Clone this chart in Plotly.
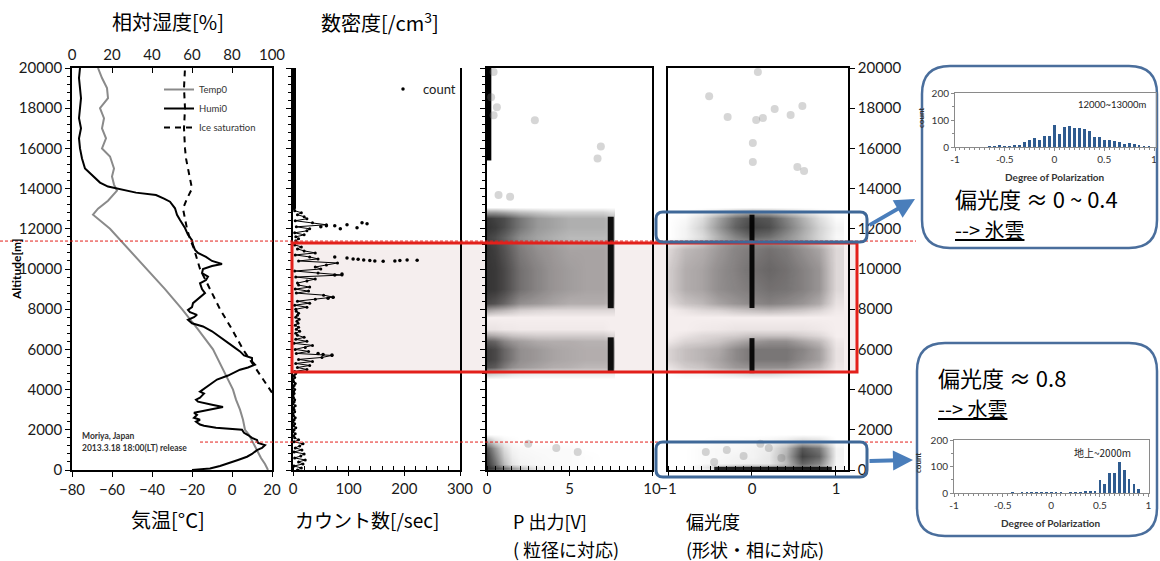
import plotly.graph_objects as go

W, H = 1160, 561
CJK = "Noto Sans CJK JP"
LAT = "Lato"

# ---------------- data ----------------
# Panel 1 : radiosonde profiles
temp_alt = [0, 300, 600, 1000, 1300, 1500, 1750, 2000, 2500, 3000, 3500, 4000, 5000, 6000, 7000,
            8000, 9000, 10000, 11000, 12000, 12700, 13000, 13400, 13900, 14200, 14600, 15000,
            15300, 15600, 16000, 16500, 17000, 17500, 18000, 18500, 19000, 19500, 20000]
temp_c = [18, 16.5, 14.5, 12.5, 11, 10, 8.5, 6.5, 5.5, 4, 2, 0.5, -4.5, -9.5, -17,
          -25, -33.5, -42.5, -52, -61, -69.5, -67, -62, -57.5, -59, -60, -59,
          -60, -61, -65, -63, -65, -64, -66, -62, -62.5, -65, -67]

humi_alt = [0, 80, 200, 330, 500, 660, 800, 990, 1100, 1240, 1350, 1490, 1600, 1740, 1850, 2000,
            2100, 2200, 2260, 2400, 2500, 2600, 2740, 2850, 3000, 3130, 3250, 3400, 3500, 3600,
            3700, 3800, 3900, 4080, 4300, 4500, 4700, 4990, 5100, 5240, 5400, 5570, 5700, 5900,
            6150, 6400, 6730, 6900, 7140, 7300, 7470, 7600, 7720, 7850, 7960, 8100, 8300, 8500,
            8800, 9000, 9290, 9450, 9620, 9800, 10000, 10150, 10250, 10400, 10600, 10800, 10950,
            11200, 11440, 11700, 12040, 12440, 12700, 13020, 13350, 13500, 13680, 13800, 13950,
            14100, 14300, 14500, 14800, 15000, 15500, 16000, 16500, 17000, 17500, 18000, 18500,
            19000, 19500, 20000]
humi_rh = [60, 69, 74, 77.5, 83, 87.5, 90, 92.5, 95, 96.5, 93, 92.5, 90, 88, 86, 85,
           72, 66, 64, 62, 64, 61, 62.5, 61, 68, 75.5, 70, 63, 62, 64,
           65, 66, 64, 66.5, 70, 72.5, 78, 84, 88, 91.5, 90, 90, 86, 84,
           80.5, 77, 72.5, 70, 65.5, 60, 58, 61, 62.5, 59, 58, 60, 60.5, 63,
           66.5, 65, 64, 67, 68, 65, 65.5, 70, 75, 70, 67, 63, 61.5,
           60.5, 60, 58, 56.5, 54, 52.5, 51.5, 49, 46, 42, 32, 24,
           18, 14, 12, 8.5, 6.5, 5, 4, 3.5, 4.5, 3.5, 4, 4.5,
           4, 3.5, 4]

ice_alt = [3850, 4000, 5000, 6000, 7000, 8000, 9000, 10000, 11000, 11500, 12000, 12500, 13000,
           13500, 14000, 14500, 15000, 15500, 16000, 17000, 18000, 19000, 20000]
ice_rh = [100, 99, 92, 85.5, 80, 74, 69, 64, 61, 59, 57.5, 56.5, 55.5,
          57.5, 60, 59, 58, 57, 56.5, 56, 56.5, 56, 56.5]

# Panel 2 : particle counts [/sec]
count_alt = list(range(0, 13001, 100))
count_val = ([8, 15, 2, 18, 10, 22, 3, 14, 20, 2, 16, 4, 12, 18, 2, 10] +
             [3, 1, 4, 0, 2, 5, 1, 3, 0, 2, 4, 1, 0, 3, 2, 1, 4, 0, 2, 3, 1, 0, 2, 1, 3, 0, 2, 4, 1, 0, 3, 2, 5] +
             [3, 25, 8, 30, 5, 35, 10, 52, 70, 6, 28, 4, 22, 35, 2, 25, 5, 20] +
             [8, 5, 12, 6, 10, 4, 9, 7, 11, 5, 8, 10, 6] +
             [5, 25, 3, 30, 8, 40, 72, 55, 6, 28, 4, 30, 10] +
             [8, 25, 40, 5, 88, 45, 3, 50, 40, 60, 80, 10, 45, 30, 4, 40, 20, 8, 15, 3] +
             [8, 5, 10] +
             [5, 20, 3, 25, 30, 6, 60, 35, 4, 25, 20, 8, 15, 3, 2])
count_high_alt = [13000, 20000]
count_high_val = [0, 0]
spike_alt = [12000, 12100, 12150, 12200, 12050, 12300, 12250, 12150,
             10600, 10550, 10500, 10480, 10450, 10420, 10400, 10380, 10400, 10420, 10450, 10430,
             9700, 9750, 8550, 8600, 5720, 5800, 5750]
spike_cnt = [85, 50, 75, 97, 115, 124, 133, 60,
             75, 97, 108, 117, 127, 138, 147, 162, 183, 192, 205, 223,
             75, 88, 63, 72, 70, 45, 54]

# Panel 3 : P output [V]  (density of the point cloud)
p_bins = [0, 0.5, 1, 1.5, 2, 3, 4, 5, 6, 7, 7.5]
p_alt = [13100, 12850, 12550, 12100, 11600, 11000, 10000, 9000, 8300, 7950, 7600, 7000, 6700,
         6400, 6000, 5500, 5100, 4850, 4500, 1800, 1450, 1100, 700, 300, 80, -150]
p_density = [
    [0, 0, 0, 0, 0, 0, 0, 0, 0, 0, 0],
    [0.45, 0.45, 0.4, 0.35, 0.3, 0.25, 0.2, 0.2, 0.2, 0.2, 0.15],
    [0.9, 0.85, 0.8, 0.7, 0.6, 0.45, 0.4, 0.35, 0.35, 0.35, 0.3],
    [0.92, 0.88, 0.8, 0.7, 0.6, 0.45, 0.4, 0.35, 0.35, 0.35, 0.3],
    [0.85, 0.8, 0.7, 0.6, 0.5, 0.4, 0.35, 0.3, 0.3, 0.3, 0.3],
    [0.9, 0.85, 0.75, 0.65, 0.55, 0.45, 0.4, 0.35, 0.35, 0.35, 0.3],
    [0.9, 0.88, 0.8, 0.7, 0.6, 0.5, 0.42, 0.38, 0.35, 0.35, 0.3],
    [0.9, 0.88, 0.8, 0.7, 0.6, 0.5, 0.42, 0.38, 0.35, 0.35, 0.3],
    [0.8, 0.75, 0.65, 0.55, 0.45, 0.4, 0.35, 0.3, 0.3, 0.3, 0.25],
    [0.35, 0.3, 0.25, 0.2, 0.15, 0.12, 0.1, 0.1, 0.1, 0.1, 0.1],
    [0, 0, 0, 0, 0, 0, 0, 0, 0, 0, 0],
    [0.05, 0.05, 0.03, 0.03, 0.02, 0.02, 0.02, 0.02, 0.02, 0.02, 0],
    [0.35, 0.3, 0.25, 0.2, 0.18, 0.15, 0.15, 0.15, 0.15, 0.15, 0.1],
    [0.7, 0.65, 0.5, 0.42, 0.38, 0.32, 0.3, 0.3, 0.28, 0.28, 0.25],
    [0.85, 0.8, 0.65, 0.55, 0.45, 0.4, 0.35, 0.32, 0.3, 0.3, 0.28],
    [0.85, 0.8, 0.65, 0.55, 0.45, 0.4, 0.35, 0.32, 0.3, 0.3, 0.28],
    [0.75, 0.7, 0.55, 0.45, 0.4, 0.35, 0.3, 0.28, 0.25, 0.25, 0.25],
    [0.3, 0.25, 0.2, 0.15, 0.12, 0.1, 0.1, 0.1, 0.1, 0.1, 0.1],
    [0, 0, 0, 0, 0, 0, 0, 0, 0, 0, 0],
    [0, 0, 0, 0, 0, 0, 0, 0, 0, 0, 0],
    [0.35, 0.15, 0.05, 0.02, 0, 0, 0, 0, 0, 0, 0],
    [0.75, 0.45, 0.15, 0.05, 0.03, 0.02, 0.02, 0.02, 0, 0, 0],
    [0.85, 0.55, 0.22, 0.08, 0.04, 0.03, 0.02, 0.02, 0.01, 0, 0],
    [0.9, 0.65, 0.3, 0.12, 0.06, 0.03, 0.03, 0.02, 0.01, 0, 0],
    [0.95, 0.85, 0.65, 0.45, 0.3, 0.08, 0.03, 0.02, 0, 0, 0],
    [0.6, 0.5, 0.4, 0.3, 0.2, 0.05, 0, 0, 0, 0, 0],
]
p_line_val = [7.5, 7.5, None, 7.5, 7.5]
p_line_alt = [12600, 8050, None, 6600, 4900]
p_col_val = [0.05, 0.05]
p_col_alt = [15400, 20000]
p_sparse_val = [0.4, 0.25, 0.6, 0.4, 2.9, 6.9, 6.7, 0.7, 1.4, 4.2, 5.5, 2.5]
p_sparse_alt = [19800, 18550, 18050, 17650, 17400, 16100, 15500, 13680, 13600, 1100, 900, 1300]

# Panel 4 : degree of polarization
pol_bins = [-1.0, -0.8, -0.6, -0.4, -0.2, 0.0, 0.2, 0.4, 0.6, 0.8, 1.0]
pol_alt = [13100, 12850, 12550, 12100, 11650, 11300, 11000, 10000, 9000, 8300, 7950, 7600, 7000,
           6700, 6400, 6000, 5500, 5100, 4850, 4500, 1800, 1450, 1100, 700, 350, 150, -150]
pol_density = [
    [0, 0, 0, 0, 0, 0, 0, 0, 0, 0, 0],
    [0, 0, 0.05, 0.15, 0.3, 0.4, 0.35, 0.25, 0.15, 0.05, 0],
    [0, 0.03, 0.15, 0.4, 0.65, 0.8, 0.75, 0.55, 0.35, 0.15, 0.02],
    [0, 0.05, 0.2, 0.45, 0.7, 0.85, 0.8, 0.6, 0.4, 0.2, 0.05],
    [0, 0.05, 0.15, 0.35, 0.55, 0.7, 0.65, 0.5, 0.35, 0.18, 0.03],
    [0.03, 0.1, 0.2, 0.35, 0.45, 0.5, 0.5, 0.45, 0.35, 0.2, 0.05],
    [0.1, 0.25, 0.3, 0.4, 0.5, 0.55, 0.6, 0.55, 0.45, 0.35, 0.1],
    [0.15, 0.3, 0.35, 0.45, 0.52, 0.6, 0.65, 0.6, 0.52, 0.42, 0.1],
    [0.15, 0.3, 0.35, 0.45, 0.5, 0.55, 0.6, 0.58, 0.52, 0.42, 0.1],
    [0.08, 0.2, 0.25, 0.35, 0.42, 0.48, 0.52, 0.48, 0.42, 0.32, 0.05],
    [0, 0.05, 0.1, 0.12, 0.18, 0.22, 0.25, 0.22, 0.18, 0.12, 0.02],
    [0, 0, 0, 0, 0, 0, 0, 0, 0, 0, 0],
    [0, 0, 0.02, 0.03, 0.05, 0.05, 0.05, 0.05, 0.05, 0.03, 0],
    [0, 0.05, 0.1, 0.12, 0.15, 0.2, 0.2, 0.2, 0.15, 0.1, 0],
    [0.03, 0.12, 0.15, 0.2, 0.3, 0.4, 0.45, 0.45, 0.35, 0.25, 0.03],
    [0.12, 0.22, 0.27, 0.32, 0.47, 0.57, 0.57, 0.57, 0.5, 0.37, 0.05],
    [0.12, 0.22, 0.27, 0.35, 0.47, 0.57, 0.57, 0.57, 0.47, 0.37, 0.05],
    [0.05, 0.15, 0.2, 0.3, 0.4, 0.45, 0.45, 0.45, 0.35, 0.25, 0.03],
    [0, 0.05, 0.05, 0.1, 0.15, 0.2, 0.2, 0.15, 0.1, 0.05, 0],
    [0, 0, 0, 0, 0, 0, 0, 0, 0, 0, 0],
    [0, 0, 0, 0, 0, 0, 0, 0, 0, 0, 0],
    [0, 0, 0, 0.02, 0.02, 0.03, 0.05, 0.1, 0.2, 0.15, 0],
    [0, 0, 0.02, 0.03, 0.03, 0.05, 0.08, 0.3, 0.75, 0.6, 0.05],
    [0, 0, 0.02, 0.03, 0.05, 0.05, 0.1, 0.35, 0.85, 0.7, 0.05],
    [0, 0, 0.02, 0.04, 0.06, 0.08, 0.1, 0.3, 0.7, 0.55, 0.04],
    [0, 0, 0.08, 0.2, 0.3, 0.35, 0.35, 0.4, 0.5, 0.4, 0.05],
    [0, 0, 0, 0, 0, 0, 0, 0, 0, 0, 0],
]
pol_line_val = [0, 0, None, 0, 0]
pol_line_alt = [12700, 8060, None, 6560, 4820]
pol_ground_val = [-0.45, 0.95]
pol_ground_alt = [60, 60]
pol_sparse_val = [0.07, -0.51, -0.29, 0.05, 0.13, 0.27, 0.46, 0.60, 0.01, 0.01, 0.54, 0.62,
                  -0.55, -0.3, -0.1, 0.2, 0.35, -0.45, 0.1]
pol_sparse_alt = [19800, 18600, 17560, 17410, 17510, 17960, 17660, 18110, 16270, 15320, 15070, 14880,
                  900, 1000, 700, 1100, 600, 400, 1300]

# Insets : histograms of degree of polarization
hist_bins = [-1.0, -0.95, -0.9, -0.85, -0.8, -0.75, -0.7, -0.65, -0.6, -0.55, -0.5, -0.45, -0.4,
             -0.35, -0.3, -0.25, -0.2, -0.15, -0.1, -0.05, 0.0, 0.05, 0.1, 0.15, 0.2, 0.25, 0.3,
             0.35, 0.4, 0.45, 0.5, 0.55, 0.6, 0.65, 0.7, 0.75, 0.8, 0.85, 0.9, 0.95, 1.0]
hist_ice = [0, 0, 0, 0, 0, 0, 0, 1, 2, 4, 3, 3, 6,
            8, 20, 25, 35, 25, 42, 40, 80, 48, 75, 78, 72, 70, 65,
            60, 38, 38, 25, 27, 22, 18, 12, 15, 10, 5, 2, 1, 0]
hist_water = [0, 0, 0, 0, 0, 0, 0, 0, 0, 0, 0, 0, 1,
              0, 1, 1, 1, 1, 1, 1, 2, 1, 1, 0, 1, 2, 1,
              5, 5, 6, 48, 35, 76, 76, 116, 86, 53, 35, 14, 0, 0]

alt_ticks = [0, 2000, 4000, 6000, 8000, 10000, 12000, 14000, 16000, 18000, 20000]
alt_labels = ["0", "2000", "4000", "6000", "8000", "10000", "12000", "14000", "16000", "18000", "20000"]

# highlighted altitude ranges (annotation overlays)
ALT_RED_BOX = (4880, 11290)
ALT_DASH = (11390, 1390)
ALT_BLUE_UP = (11343, 12836)
ALT_BLUE_LOW = (-348, 1393)

# ---------------- helpers ----------------
Y_TOP, Y_BOT = 68, 470


def px(x):
    return x / W


def py(y):
    return 1 - y / H


def alt_y(a):
    return Y_BOT - a * (Y_BOT - Y_TOP) / 20000.0


def rrect(x0, y0, x1, y1, r):
    return (f"M {px(x0 + r)},{py(y0)} L {px(x1 - r)},{py(y0)} Q {px(x1)},{py(y0)} {px(x1)},{py(y0 + r)} "
            f"L {px(x1)},{py(y1 - r)} Q {px(x1)},{py(y1)} {px(x1 - r)},{py(y1)} "
            f"L {px(x0 + r)},{py(y1)} Q {px(x0)},{py(y1)} {px(x0)},{py(y1 - r)} "
            f"L {px(x0)},{py(y0 + r)} Q {px(x0)},{py(y0)} {px(x0 + r)},{py(y0)} Z")


CLOUD_SCALE = [[0, "rgba(0,0,0,0)"], [1, "rgba(15,15,15,0.92)"]]

fig = go.Figure()

# Panel 1
fig.add_trace(go.Scatter(x=temp_c, y=temp_alt, xaxis="x", yaxis="y", mode="lines", name="Temp0",
                         line=dict(color="#8a8a8a", width=2), legend="legend"))
fig.add_trace(go.Scatter(x=humi_rh, y=humi_alt, xaxis="x2", yaxis="y", mode="lines", name="Humi0",
                         line=dict(color="black", width=2), legend="legend"))
fig.add_trace(go.Scatter(x=ice_rh, y=ice_alt, xaxis="x2", yaxis="y", mode="lines", name="Ice saturation",
                         line=dict(color="black", width=2, dash="6px,5px"), legend="legend"))

# Panel 2
fig.add_trace(go.Scatter(x=count_val, y=count_alt, xaxis="x3", yaxis="y2", mode="lines+markers",
                         line=dict(color="black", width=1), marker=dict(color="black", size=3),
                         showlegend=False))
fig.add_trace(go.Scatter(x=count_high_val, y=count_high_alt, xaxis="x3", yaxis="y2", mode="lines",
                         line=dict(color="black", width=6), showlegend=False))
fig.add_trace(go.Scatter(x=spike_cnt, y=spike_alt, xaxis="x3", yaxis="y2", mode="markers", name="count",
                         marker=dict(color="black", size=3.5), legend="legend2"))

# Panel 3
fig.add_trace(go.Heatmap(x=p_bins, y=p_alt, z=p_density, xaxis="x5", yaxis="y3", colorscale=CLOUD_SCALE,
                         zmin=0, zmax=1, zsmooth="best", showscale=False, hoverinfo="skip"))
fig.add_trace(go.Scatter(x=p_line_val, y=p_line_alt, xaxis="x5", yaxis="y3", mode="lines",
                         line=dict(color="rgba(0,0,0,0.92)", width=6), showlegend=False))
fig.add_trace(go.Scatter(x=p_col_val, y=p_col_alt, xaxis="x5", yaxis="y3", mode="lines",
                         line=dict(color="black", width=7), showlegend=False))
fig.add_trace(go.Scatter(x=p_sparse_val, y=p_sparse_alt, xaxis="x5", yaxis="y3", mode="markers",
                         marker=dict(color="rgba(120,120,120,0.3)", size=8), showlegend=False))

# Panel 4
fig.add_trace(go.Heatmap(x=pol_bins, y=pol_alt, z=pol_density, xaxis="x6", yaxis="y4", colorscale=CLOUD_SCALE,
                         zmin=0, zmax=1, zsmooth="best", showscale=False, hoverinfo="skip"))
fig.add_trace(go.Scatter(x=pol_line_val, y=pol_line_alt, xaxis="x6", yaxis="y4", mode="lines",
                         line=dict(color="rgba(0,0,0,0.92)", width=5), showlegend=False))
fig.add_trace(go.Scatter(x=pol_ground_val, y=pol_ground_alt, xaxis="x6", yaxis="y4", mode="lines",
                         line=dict(color="rgba(0,0,0,0.85)", width=4), showlegend=False))
fig.add_trace(go.Scatter(x=pol_sparse_val, y=pol_sparse_alt, xaxis="x6", yaxis="y4", mode="markers",
                         marker=dict(color="rgba(120,120,120,0.3)", size=8), showlegend=False))

# Insets
fig.add_trace(go.Bar(x=hist_bins, y=hist_ice, xaxis="x7", yaxis="y7", width=0.028,
                     marker=dict(color="#2f5b8f", line=dict(width=0)), showlegend=False))
fig.add_trace(go.Bar(x=hist_bins, y=hist_water, xaxis="x8", yaxis="y8", width=0.028,
                     marker=dict(color="#2f5b8f", line=dict(width=0)), showlegend=False))

TF = dict(family=LAT, size=15, color="#1a1a1a")
base = dict(showgrid=False, zeroline=False, showline=True, linecolor="black", linewidth=1.5,
            tickcolor="black", tickfont=TF, automargin=False)
ydom = [py(Y_BOT), py(Y_TOP)]
minor_y = dict(dtick=400, ticks="outside", ticklen=3, tickcolor="black")

ibase = dict(showgrid=False, zeroline=False, showline=True, linecolor="#8a8a8a", linewidth=1,
             tickcolor="#8a8a8a", tickfont=dict(family=LAT, size=10, color="#333"), mirror=True,
             automargin=False)

fig.update_layout(
    width=W, height=H, margin=dict(l=0, r=0, t=0, b=0, autoexpand=False), autosize=False,
    paper_bgcolor="white", plot_bgcolor="rgba(0,0,0,0)",
    font=dict(family=LAT, color="black"),
    bargap=0,
    xaxis=dict(base, domain=[px(72), px(272)], range=[-80, 20], tickvals=[-80, -60, -40, -20, 0, 20],
               ticks="outside", ticklen=5, anchor="y"),
    xaxis2=dict(base, domain=[px(72), px(272)], range=[0, 100], tickvals=[0, 20, 40, 60, 80, 100],
                ticks="inside", ticklen=5, side="top", overlaying="x", anchor="y"),
    yaxis=dict(base, domain=ydom, range=[0, 20000], tickvals=alt_ticks, ticktext=alt_labels,
               ticks="outside", ticklen=5, minor=minor_y, mirror=True, anchor="x"),
    xaxis3=dict(base, domain=[px(293), px(460)], range=[0, 300], tickvals=[0, 100, 200, 300],
                ticks="outside", ticklen=4, minor=dict(dtick=20, ticks="inside", ticklen=4, tickcolor="black"),
                anchor="y2"),
    xaxis4=dict(base, domain=[px(293), px(460)], range=[-0.092, 1.0], tickvals=[0.5, 1.0],
                ticktext=["0.5", "1.0"], ticks="outside", ticklen=7, side="top", overlaying="x3", anchor="y2"),
    yaxis2=dict(base, domain=ydom, range=[0, 20000], tickvals=alt_ticks, ticks="outside", ticklen=5,
                minor=minor_y, showticklabels=False, mirror=True, anchor="x3"),
    xaxis5=dict(base, domain=[px(487), px(652)], range=[0, 10], tickvals=[0, 5, 10], ticks="outside",
                ticklen=4, minor=dict(dtick=0.5, ticks="inside", ticklen=4, tickcolor="black"),
                mirror=True, anchor="y3"),
    yaxis3=dict(base, domain=ydom, range=[0, 20000], tickvals=alt_ticks, ticks="outside", ticklen=5,
                minor=minor_y, showticklabels=False, mirror=True, anchor="x5"),
    xaxis6=dict(base, domain=[px(668), px(848)], range=[-1, 1.143], tickvals=[-1, 0, 1], ticks="outside",
                ticklen=4, minor=dict(dtick=0.1, ticks="inside", ticklen=4, tickcolor="black"),
                mirror=True, anchor="y4"),
    yaxis4=dict(base, domain=ydom, range=[0, 20000], tickvals=alt_ticks, ticktext=alt_labels,
                ticks="outside", ticklen=5, side="right", mirror=True, anchor="x6"),
    xaxis7=dict(ibase, domain=[px(955), px(1156)], range=[-1, 1.02], tickvals=[-1, -0.5, 0, 0.5, 1],
                ticktext=["-1", "-0.5", "0", "0.5", "1"], ticks="outside", ticklen=3,
                minor=dict(dtick=0.05, ticks="outside", ticklen=2, tickcolor="#8a8a8a"), anchor="y7"),
    yaxis7=dict(ibase, domain=[py(147), py(93)], range=[0, 200], tickvals=[0, 100, 200], ticks="outside",
                ticklen=3, minor=dict(dtick=50, ticks="outside", ticklen=2, tickcolor="#8a8a8a"), anchor="x7"),
    xaxis8=dict(ibase, domain=[px(954), px(1149)], range=[-1, 1.005], tickvals=[-1, -0.5, 0, 0.5, 1],
                ticktext=["-1", "-0.5", "0", "0.5", "1"], ticks="outside", ticklen=3,
                minor=dict(dtick=0.05, ticks="outside", ticklen=2, tickcolor="#8a8a8a"), anchor="y8"),
    yaxis8=dict(ibase, domain=[py(493), py(440)], range=[0, 200], tickvals=[0, 100, 200], ticks="outside",
                ticklen=3, minor=dict(dtick=50, ticks="outside", ticklen=2, tickcolor="#8a8a8a"), anchor="x8"),
    legend=dict(x=px(159), y=py(75), xanchor="left", yanchor="top", bgcolor="rgba(0,0,0,0)",
                font=dict(family=LAT, size=9.5, color="#333"), itemwidth=30, tracegroupgap=0),
    legend2=dict(x=px(383), y=py(74), xanchor="left", yanchor="top", bgcolor="rgba(0,0,0,0)",
                 font=dict(family=LAT, size=13, color="#222"), itemwidth=30),
)

RED = "#e3201b"
BLUE = "#3f6898"
shapes = [
    dict(type="rect", xref="paper", yref="paper", x0=px(292), x1=px(857),
         y0=py(alt_y(ALT_RED_BOX[0])), y1=py(alt_y(ALT_RED_BOX[1])),
         fillcolor="rgba(205,170,170,0.2)", line=dict(width=0), layer="below"),
    dict(type="rect", xref="paper", yref="paper", x0=px(292), x1=px(857),
         y0=py(alt_y(ALT_RED_BOX[0])), y1=py(alt_y(ALT_RED_BOX[1])),
         line=dict(color=RED, width=3), layer="above"),
    dict(type="line", xref="paper", yref="paper", x0=px(0), x1=px(916),
         y0=py(alt_y(ALT_DASH[0])), y1=py(alt_y(ALT_DASH[0])),
         line=dict(color=RED, width=1, dash="3px,2px"), layer="above"),
    dict(type="line", xref="paper", yref="paper", x0=px(200), x1=px(912),
         y0=py(alt_y(ALT_DASH[1])), y1=py(alt_y(ALT_DASH[1])),
         line=dict(color=RED, width=1, dash="3px,2px"), layer="above"),
    dict(type="path", xref="paper", yref="paper",
         path=rrect(656, alt_y(ALT_BLUE_UP[1]), 867, alt_y(ALT_BLUE_UP[0]), 7),
         line=dict(color=BLUE, width=3), layer="above"),
    dict(type="path", xref="paper", yref="paper",
         path=rrect(656, alt_y(ALT_BLUE_LOW[1]), 867, alt_y(ALT_BLUE_LOW[0]), 7),
         line=dict(color=BLUE, width=3), layer="above"),
    dict(type="path", xref="paper", yref="paper", path=rrect(922, 66, 1157, 248, 28),
         line=dict(color="#4a6e9c", width=2.5), fillcolor="white", layer="below"),
    dict(type="path", xref="paper", yref="paper", path=rrect(917, 343, 1157, 536, 28),
         line=dict(color="#4a6e9c", width=2.5), fillcolor="white", layer="below"),
]
fig.update_layout(shapes=shapes)


def ann(text, x, y, size, xanchor="center", family=CJK, color="black", **kw):
    return dict(text=text, x=px(x), y=py(y), xref="paper", yref="paper", xanchor=xanchor,
                yanchor="middle", showarrow=False, font=dict(family=family, size=size, color=color), **kw)


annotations = [
    ann("相対湿度[%]", 168, 22, 20),
    ann("数密度[/cm<sup>3</sup>]", 380, 22, 20),
    ann("気温[°C]", 168, 519, 20),
    ann("カウント数[/sec]", 367, 519, 19),
    ann("P 出力[V]", 511, 521, 18, xanchor="left"),
    ann("( 粒径に対応)", 511, 549, 18, xanchor="left"),
    ann("偏光度", 684, 521, 18, xanchor="left"),
    ann("(形状・相に対応)", 684, 549, 18, xanchor="left"),
    ann("<b>Altitude[m]</b>", 17, 270, 12, family=LAT, textangle=-90),
    ann("<b>Moriya, Japan</b>", 80, 436, 8.5, xanchor="left", family=LAT, color="#333"),
    ann("<b>2013.3.18 18:00(LT) release</b>", 80, 448, 8.5, xanchor="left", family=LAT, color="#333"),
    ann("12000~13000m", 1112, 105, 9.5, family=LAT, color="#222"),
    ann("地上~2000m", 1102, 452, 10, family=CJK, color="#222"),
    ann("<b>Degree of Polarization</b>", 1055, 177, 10, family=LAT, color="#333"),
    ann("<b>Degree of Polarization</b>", 1051, 523, 10, family=LAT, color="#333"),
    ann("<b>count</b>", 921, 118, 8, family=LAT, color="#333", textangle=-90),
    ann("<b>count</b>", 918, 463, 8, family=LAT, color="#333", textangle=-90),
    ann("偏光度 ≈ 0 ~ 0.4", 953, 198, 22, xanchor="left"),
    ann("<u>--> 氷雲</u>", 953, 229, 20, xanchor="left"),
    ann("偏光度 ≈ 0.8", 936, 377, 22, xanchor="left"),
    ann("<u>--> 水雲</u>", 936, 408, 20, xanchor="left"),
    dict(x=px(915), y=py(199), xref="paper", yref="paper", ax=-47, ay=27, text="", showarrow=True,
         arrowhead=2, arrowsize=1, arrowwidth=4, arrowcolor="#4a7ebb"),
    dict(x=px(913), y=py(460), xref="paper", yref="paper", ax=-45, ay=1, text="", showarrow=True,
         arrowhead=2, arrowsize=1, arrowwidth=4, arrowcolor="#4a7ebb"),
]
fig.update_layout(annotations=annotations)

fig.write_html("out.html", config={"displayModeBar": False},
               post_script="document.body.style.margin='0';document.body.style.overflow='hidden';")
